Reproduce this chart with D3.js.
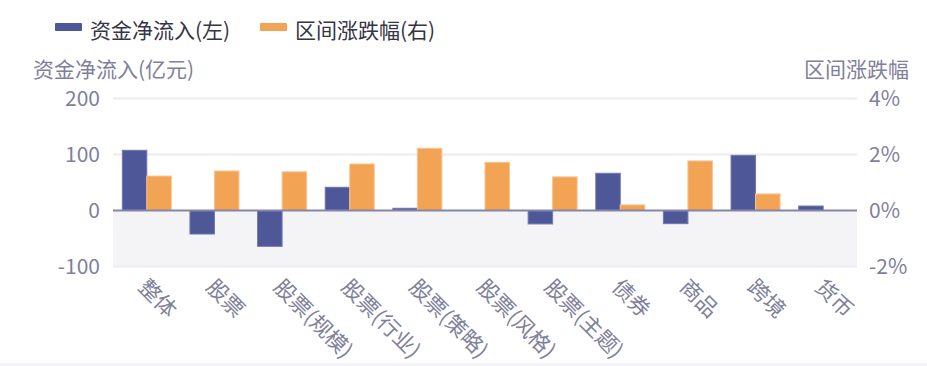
<!DOCTYPE html>
<html>
<head>
<meta charset="utf-8">
<script src="https://cdn.jsdelivr.net/npm/d3@7"></script>
<style>
body { margin: 0; background: #fff; }
text { font-family: "Noto Sans CJK SC", "Noto Sans", sans-serif; }
</style>
</head>
<body>
<svg id="chart" width="927" height="366"></svg>
<script>
var categories = ["整体", "股票", "股票(规模)", "股票(行业)", "股票(策略)", "股票(风格)", "股票(主题)", "债券", "商品", "跨境", "货币"];
var netFlow = [107.5, -42, -64, 41.5, 4, 0, -24, 66.5, -23.5, 98.5, 8];
var pctChange = [1.23, 1.41, 1.38, 1.66, 2.22, 1.72, 1.2, 0.2, 1.77, 0.59, 0];
var leftTicks = [-100, 0, 100, 200];
var rightTicks = [-2, 0, 2, 4];
var seriesNames = ["资金净流入(左)", "区间涨跌幅(右)"];

var blue = "#4e5797", orange = "#f2a354", txt = "#80809a";
var svg = d3.select("#chart");
var plotL = 113, plotR = 857, plotT = 98.5, plotB = 266.5;

var x = d3.scaleBand().domain(categories).range([plotL, plotR]);
var yL = d3.scaleLinear().domain([-100, 200]).range([plotB, plotT]);
var yR = d3.scaleLinear().domain([-2, 4]).range([plotB, plotT]);

// bottom strip
svg.append("rect").attr("x", 0).attr("y", 363).attr("width", 927).attr("height", 3).attr("fill", "#f5f5f9");

// shaded negative area
svg.append("rect").attr("x", plotL).attr("y", yL(0)).attr("width", plotR - plotL).attr("height", yL(-100) - yL(0)).attr("fill", "#f4f4f7");

// grid
svg.append("g").selectAll("line").data(leftTicks.filter(function (d) { return d != 0; })).enter().append("line")
	.attr("x1", plotL).attr("x2", plotR).attr("y1", function (d) { return yL(d); }).attr("y2", function (d) { return yL(d); })
	.attr("stroke", "#ebebf4").attr("stroke-width", 2);

// left ticks
svg.append("g").selectAll("text").data(leftTicks).enter().append("text")
	.attr("x", 100).attr("y", function (d) { return yL(d); }).attr("dy", "0.36em")
	.attr("text-anchor", "end").attr("font-size", 21).attr("fill", txt).text(function (d) { return d; });
// right ticks
svg.append("g").selectAll("text").data(rightTicks).enter().append("text")
	.attr("x", 869).attr("y", function (d) { return yR(d); }).attr("dy", "0.36em")
	.attr("text-anchor", "start").attr("font-size", 21).attr("fill", txt).text(function (d) { return d + "%"; });

// axis titles
svg.append("text").attr("x", 33).attr("y", 69).attr("dy", "0.36em").attr("font-size", 21).attr("fill", txt).text("资金净流入(亿元)");
svg.append("text").attr("x", 909).attr("y", 69).attr("dy", "0.36em").attr("text-anchor", "end").attr("font-size", 21).attr("fill", txt).text("区间涨跌幅");

var bw = 24.5;
// blue bars
svg.append("g").selectAll("rect").data(netFlow).enter().append("rect")
	.attr("x", function (d, i) { return x(categories[i]) + x.bandwidth() / 2 - bw; })
	.attr("y", function (d) { return Math.min(yL(d), yL(0)); })
	.attr("width", bw).attr("height", function (d) { return Math.abs(yL(d) - yL(0)); })
	.attr("fill", blue).attr("stroke", "#7078ad").attr("stroke-width", 1);
// orange bars
svg.append("g").selectAll("rect").data(pctChange).enter().append("rect")
	.attr("x", function (d, i) { return x(categories[i]) + x.bandwidth() / 2; })
	.attr("y", function (d) { return Math.min(yR(d), yR(0)); })
	.attr("width", bw).attr("height", function (d) { return Math.abs(yR(d) - yR(0)); })
	.attr("fill", orange).attr("stroke", "#f8c38e").attr("stroke-width", 1);

// zero line
svg.append("line").attr("x1", plotL).attr("x2", plotR).attr("y1", yL(0)).attr("y2", yL(0)).attr("stroke", "#8585aa").attr("stroke-width", 2);

// x labels
svg.append("g").selectAll("text").data(categories).enter().append("text")
	.attr("transform", function (d) { return "translate(" + (x(d) + x.bandwidth() / 2 - 4) + ",283) rotate(45)"; })
	.attr("dy", "0.36em").attr("font-size", 21.5).attr("fill", txt).text(function (d) { return d; });

// legend
var legend = svg.append("g");
[[55, blue], [260, orange]].forEach(function (p, i) {
	legend.append("rect").attr("x", p[0]).attr("y", 23).attr("width", 27).attr("height", 8).attr("rx", 1).attr("fill", p[1]);
	legend.append("text").attr("x", p[0] + 35).attr("y", 30).attr("dy", "0.36em").attr("font-size", 21).attr("fill", "#353545").text(seriesNames[i]);
});
</script>
</body>
</html>
